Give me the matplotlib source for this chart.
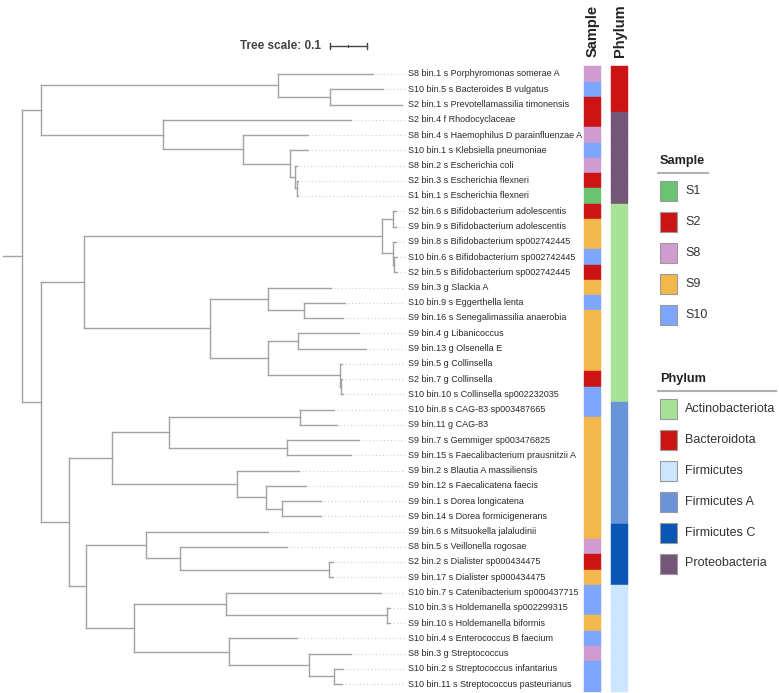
import matplotlib.pyplot as plt
from matplotlib.patches import Rectangle

# leaves, top to bottom
leaf_names = [
    "S8 bin.1 s Porphyromonas somerae A",
    "S10 bin.5 s Bacteroides B vulgatus",
    "S2 bin.1 s Prevotellamassilia timonensis",
    "S2 bin.4 f Rhodocyclaceae",
    "S8 bin.4 s Haemophilus D parainfluenzae A",
    "S10 bin.1 s Klebsiella pneumoniae",
    "S8 bin.2 s Escherichia coli",
    "S2 bin.3 s Escherichia flexneri",
    "S1 bin.1 s Escherichia flexneri",
    "S2 bin.6 s Bifidobacterium adolescentis",
    "S9 bin.9 s Bifidobacterium adolescentis",
    "S9 bin.8 s Bifidobacterium sp002742445",
    "S10 bin.6 s Bifidobacterium sp002742445",
    "S2 bin.5 s Bifidobacterium sp002742445",
    "S9 bin.3 g Slackia A",
    "S10 bin.9 s Eggerthella lenta",
    "S9 bin.16 s Senegalimassilia anaerobia",
    "S9 bin.4 g Libanicoccus",
    "S9 bin.13 g Olsenella E",
    "S9 bin.5 g Collinsella",
    "S2 bin.7 g Collinsella",
    "S10 bin.10 s Collinsella sp002232035",
    "S10 bin.8 s CAG-83 sp003487665",
    "S9 bin.11 g CAG-83",
    "S9 bin.7 s Gemmiger sp003476825",
    "S9 bin.15 s Faecalibacterium prausnitzii A",
    "S9 bin.2 s Blautia A massiliensis",
    "S9 bin.12 s Faecalicatena faecis",
    "S9 bin.1 s Dorea longicatena",
    "S9 bin.14 s Dorea formicigenerans",
    "S9 bin.6 s Mitsuokella jalaludinii",
    "S8 bin.5 s Veillonella rogosae",
    "S2 bin.2 s Dialister sp000434475",
    "S9 bin.17 s Dialister sp000434475",
    "S10 bin.7 s Catenibacterium sp000437715",
    "S10 bin.3 s Holdemanella sp002299315",
    "S9 bin.10 s Holdemanella biformis",
    "S10 bin.4 s Enterococcus B faecium",
    "S8 bin.3 g Streptococcus",
    "S10 bin.2 s Streptococcus infantarius",
    "S10 bin.11 s Streptococcus pasteurianus",
]
leaf_sample = ["S8", "S10", "S2", "S2", "S8", "S10", "S8", "S2", "S1",
               "S2", "S9", "S9", "S10", "S2", "S9", "S10", "S9", "S9", "S9",
               "S9", "S2", "S10", "S10", "S9", "S9", "S9", "S9", "S9", "S9",
               "S9", "S9", "S8", "S2", "S9", "S10", "S10", "S9", "S10", "S8",
               "S10", "S10"]
leaf_phylum = (["Bacteroidota"] * 3 + ["Proteobacteria"] * 6 +
               ["Actinobacteriota"] * 13 + ["Firmicutes A"] * 8 +
               ["Firmicutes C"] * 4 + ["Firmicutes"] * 7)
# distance from root to each tip
leaf_depth = [0.949, 0.976, 1.027, 0.889, 0.773, 0.773, 0.743, 0.745, 0.745,
              1.011, 1.011, 1.011, 1.014, 1.014,
              0.835, 0.873, 0.868, 0.911, 0.930, 0.865, 0.866, 0.868,
              0.843, 0.851, 0.911, 0.889, 0.749, 0.768, 0.808, 0.808,
              0.665, 0.716, 0.841, 0.841,
              0.970, 0.995, 0.995, 0.743, 0.889, 0.868, 0.865]

# internal nodes: name -> (distance from root, children); ints are leaves
nodes = {
    'root': (0.0, ['A', 'H']),
    'A': (0.051, ['B', 'C']),
    'B': (0.692, [0, 'B2']),
    'B2': (0.832, [1, 2]),
    'C': (0.381, [3, 'D']),
    'D': (0.597, [4, 'E']),
    'E': (0.724, [5, 'F']),
    'F': (0.738, [6, 'G']),
    'G': (0.742, [7, 8]),
    'H': (0.051, ['I', 'J']),
    'I': (0.168, ['K', 'L']),
    'K': (0.973, ['K1', 'K2']),
    'K1': (1.003, [9, 10]),
    'K2': (1.003, [11, 'K3']),
    'K3': (1.005, [12, 13]),
    'L': (0.508, ['M', 'N']),
    'M': (0.665, [14, 'M2']),
    'M2': (0.762, [15, 16]),
    'N': (0.665, ['N1', 'N2']),
    'N1': (0.746, [17, 18]),
    'N2': (0.859, [19, 'N3']),
    'N3': (0.862, [20, 21]),
    'J': (0.127, ['O', 'P']),
    'O': (0.243, ['Q', 'R']),
    'Q': (0.397, ['Q1', 'Q2']),
    'Q1': (0.751, [22, 23]),
    'Q2': (0.716, [24, 25]),
    'R': (0.581, [26, 'R2']),
    'R2': (0.659, [27, 'R3']),
    'R3': (0.703, [28, 29]),
    'P': (0.173, ['S', 'T']),
    'S': (0.335, [30, 'S2']),
    'S2': (0.427, [31, 'S3']),
    'S3': (0.830, [32, 33]),
    'T': (0.303, ['U', 'V']),
    'U': (0.551, [34, 'U2']),
    'U2': (0.986, [35, 36]),
    'V': (0.559, [37, 'V2']),
    'V2': (0.776, [38, 'V3']),
    'V3': (0.843, [39, 40]),
}

sample_names = ["S1", "S2", "S8", "S9", "S10"]
sample_colors = ["#6ac372", "#cc1414", "#d09ccf", "#f3b84c", "#7ea6ff"]
phylum_names = ["Actinobacteriota", "Bacteroidota", "Firmicutes",
                "Firmicutes A", "Firmicutes C", "Proteobacteria"]
phylum_colors = ["#a8e296", "#cc1414", "#cce6ff", "#6a94d8", "#0b55b5", "#745679"]
scale_len = 0.1

font = ['Liberation Sans', 'DejaVu Sans']

fig = plt.figure(figsize=(7.79, 6.93), dpi=100)
ax = fig.add_axes([0, 0, 1, 1])
ax.set_xlim(-22 / 370, 757 / 370)
ax.set_ylim((693 - 74) / 15.25, -74 / 15.25)
ax.axis('off')

line_kw = dict(color='#a3a3a3', lw=1.0, solid_capstyle='projecting')
label_x = 1.043


def draw(name):
    depth, kids = nodes[name]
    ys = []
    for k in kids:
        if isinstance(k, int):
            y = k
            ax.plot([depth, leaf_depth[k]], [y, y], **line_kw)
            ax.plot([leaf_depth[k] + 0.008, label_x - 0.008], [y, y],
                    color='#cfcfcf', lw=0.8, ls=(0, (1, 2.2)))
        else:
            y = draw(k)
            ax.plot([depth, nodes[k][0]], [y, y], **line_kw)
        ys.append(y)
    ax.plot([depth, depth], [ys[0], ys[-1]], **line_kw)
    return (ys[0] + ys[-1]) / 2


root_y = draw('root')
ax.plot([-0.051, 0], [root_y, root_y], **line_kw)

for i, name in enumerate(leaf_names):
    ax.text(label_x, i, name, fontsize=6.5, family=font, color='#2a2a2a',
            va='center', ha='left')

# colour strips
n = len(leaf_names)
scol = [sample_colors[sample_names.index(s)] for s in leaf_sample]
pcol = [phylum_colors[phylum_names.index(p)] for p in leaf_phylum]
ax.barh(range(n), 0.046, left=1.520, height=1.0, color=scol, edgecolor=scol, lw=0.3)
ax.barh(range(n), 0.046, left=1.593, height=1.0, color=pcol, edgecolor=pcol, lw=0.3)
ax.text(1.543, -1.12, "Sample", rotation=90, ha='center', va='bottom',
        fontsize=10.5, fontweight='bold', family=font, color='#222222')
ax.text(1.616, -1.12, "Phylum", rotation=90, ha='center', va='bottom',
        fontsize=10.5, fontweight='bold', family=font, color='#222222')

# tree scale
sy = -1.84
sx = 0.832
ax.plot([sx, sx + scale_len], [sy, sy], color='#444444', lw=1.0)
for t in (sx, sx + scale_len):
    ax.plot([t, t], [sy - 0.2, sy + 0.2], color='#444444', lw=1.0)
ax.plot([sx + scale_len / 2] * 2, [sy - 0.08, sy + 0.08], color='#444444', lw=0.8)
ax.text(sx - 0.025, sy, "Tree scale: %g" % scale_len, ha='right', va='center',
        fontsize=8.5, fontweight='bold', family=font, color='#444444')

# legends (pixel coordinates)
lax = fig.add_axes([0, 0, 1, 1])
lax.set_xlim(0, 779)
lax.set_ylim(693, 0)
lax.axis('off')


def legend(title, names, colors, top, rule_w):
    lax.text(660, top, title, fontsize=9.2, fontweight='bold', family=font,
             color='#222222', va='center', ha='left')
    lax.plot([658, 658 + rule_w], [top + 12, top + 12], color='#b0b0b0', lw=1.5)
    for k, (nm, c) in enumerate(zip(names, colors)):
        cy = top + 30 + k * 30.9
        lax.add_patch(Rectangle((660, cy - 10), 17, 20, facecolor=c,
                                edgecolor='#9a9a9a', lw=0.8))
        lax.text(685, cy, nm, fontsize=9.0, family=font, color='#333333',
                 va='center', ha='left')


legend("Sample", sample_names, sample_colors, 161, 50)
legend("Phylum", phylum_names, phylum_colors, 379, 118)

fig.savefig("out.png", dpi=100)
